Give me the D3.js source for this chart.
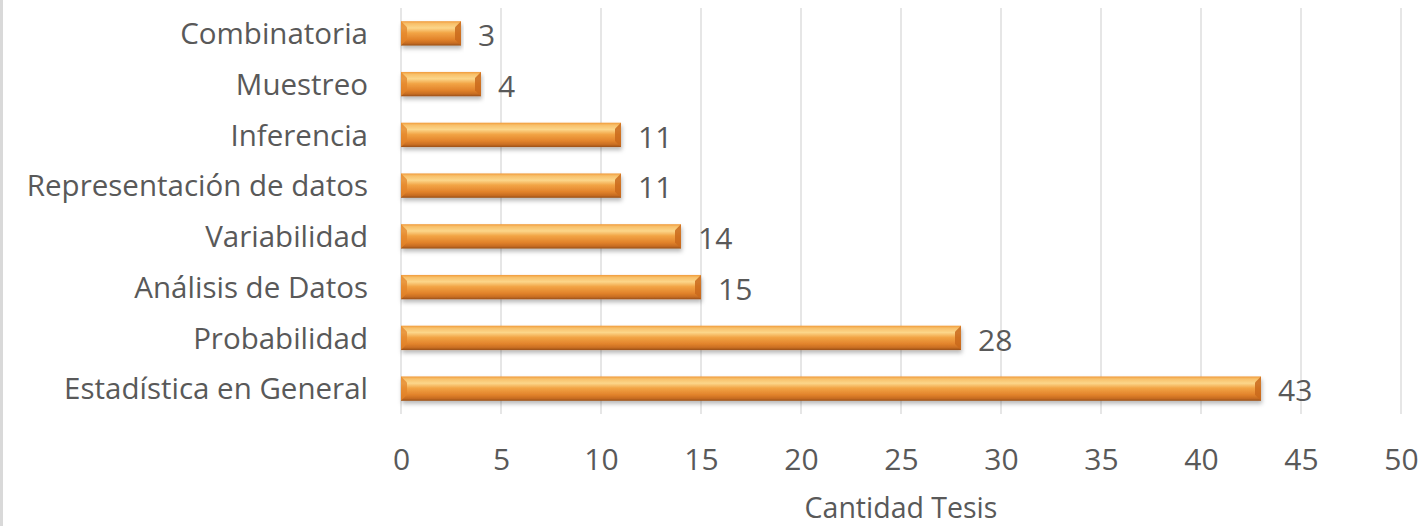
<!DOCTYPE html>
<html><head><meta charset="utf-8">
<script src="https://cdn.jsdelivr.net/npm/d3@7"></script>
<style>
html,body{margin:0;padding:0;background:#fff;}
svg{display:block;}
text{font-family:"Open Sans",sans-serif;fill:#595959;}
</style></head>
<body>
<script>
const categories = ["Combinatoria","Muestreo","Inferencia","Representación de datos","Variabilidad","Análisis de Datos","Probabilidad","Estadística en General"];
const values = [3,4,11,11,14,15,28,43];
const tickValues = [0,5,10,15,20,25,30,35,40,45,50];
const axisTitle = "Cantidad Tesis";

const W = 1423, H = 526;
const svg = d3.select("body").append("svg").attr("width", W).attr("height", H);

const defs = svg.append("defs");
const g1 = defs.append("linearGradient").attr("id","barGrad").attr("x1",0).attr("y1",0).attr("x2",0).attr("y2",1);
[[0,"#f09a3a"],[0.1,"#f8c06a"],[0.28,"#fcd68a"],[0.48,"#f2a445"],[0.75,"#e2832b"],[0.9,"#c86d22"],[1,"#985019"]]
  .forEach(([o,c])=>g1.append("stop").attr("offset",o).attr("stop-color",c));
const f = defs.append("filter").attr("id","shadow").attr("x","-5%").attr("y","-30%").attr("width","110%").attr("height","180%");
f.append("feDropShadow").attr("dx",1).attr("dy",3).attr("stdDeviation",2).attr("flood-color","#000").attr("flood-opacity",0.28);

// left border
svg.append("rect").attr("x",0).attr("y",0).attr("width",3).attr("height",H).attr("fill","#d9d9d9");

const x = d3.scaleLinear().domain([0,50]).range([401,1401]);
const y = d3.scaleBand().domain(categories).range([8,414]).paddingInner(0.52).paddingOuter(0.26);

// gridlines
svg.append("g").selectAll("line").data(tickValues).join("line")
  .attr("x1",d=>x(d)).attr("x2",d=>x(d)).attr("y1",8).attr("y2",414)
  .attr("stroke","#d9d9d9").attr("stroke-width",1.3);

// bars
const bars = svg.append("g").selectAll("g").data(categories).join("g");
bars.append("rect")
  .attr("x",x(0)).attr("y",d=>y(d))
  .attr("width",(d,i)=>x(values[i])-x(0)).attr("height",y.bandwidth())
  .attr("fill","url(#barGrad)").attr("filter","url(#shadow)");
// bevel end highlights
bars.append("path")
  .attr("d",(d,i)=>{const x0=x(0), yy=y(d), h=y.bandwidth(); return `M${x0},${yy} L${x0+6},${yy+6} L${x0+6},${yy+h-6} L${x0},${yy+h} Z`;})
  .attr("fill","#e3842a").attr("opacity",0.75);
bars.append("path")
  .attr("d",(d,i)=>{const x1=x(values[i]), yy=y(d), h=y.bandwidth(); return `M${x1},${yy} L${x1-6},${yy+6} L${x1-6},${yy+h-6} L${x1},${yy+h} Z`;})
  .attr("fill","#c9681b").attr("opacity",0.85);

// value labels
svg.append("g").selectAll("text").data(categories).join("text")
  .attr("x",(d,i)=>x(values[i])+17).attr("y",d=>y(d)+y.bandwidth()/2+2)
  .attr("dy","0.36em").attr("font-size",30).text((d,i)=>values[i]);

// category axis labels
const yAxis = d3.axisLeft(y).tickSize(0).tickPadding(0);
const ya = svg.append("g").attr("transform","translate(368,0)").call(yAxis);
ya.select(".domain").remove();
ya.selectAll("text").attr("font-size",29.5).attr("fill","#595959").attr("font-family","'Open Sans',sans-serif").attr("dy","0.36em");

// x axis
const xAxis = d3.axisBottom(x).tickValues(tickValues).tickSize(0).tickPadding(0);
const xa = svg.append("g").attr("transform","translate(0,459)").call(xAxis);
xa.select(".domain").remove();
xa.selectAll("text").attr("font-size",30).attr("fill","#595959").attr("font-family","'Open Sans',sans-serif").attr("dy","0.36em").attr("y",0);

svg.append("text").attr("x",x(25)).attr("y",508).attr("text-anchor","middle")
  .attr("dy","0.36em").attr("font-size",28.5).text(axisTitle);
</script>
</body></html>
